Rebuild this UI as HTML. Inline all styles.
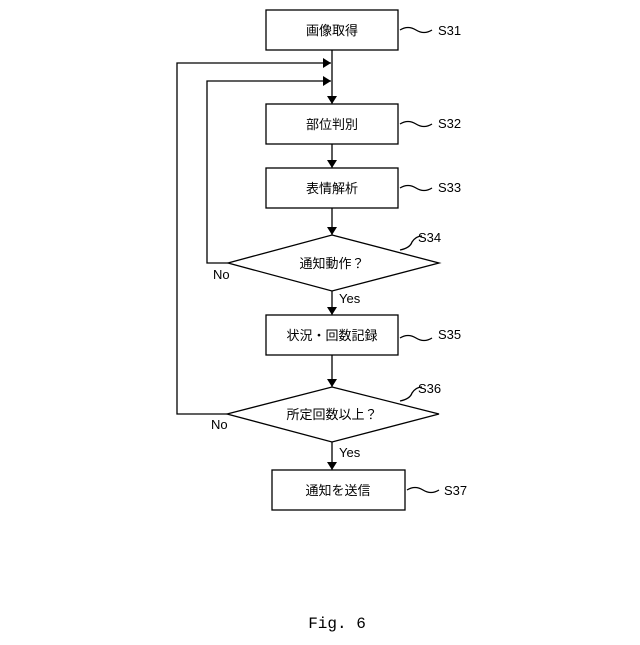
<!DOCTYPE html>
<html><head><meta charset="utf-8"><style>body{margin:0;background:#fff}</style></head><body>
<svg width="640" height="640" xmlns="http://www.w3.org/2000/svg" font-family="'Liberation Sans','Noto Sans CJK JP',sans-serif">
<defs><marker id="a" markerWidth="8" markerHeight="10" refX="8" refY="5" orient="auto" markerUnits="userSpaceOnUse"><path d="M0,0 L8,5 L0,10 z" fill="#000"/></marker></defs>
<g fill="#fff" stroke="#000" stroke-width="1.3">
<rect x="266" y="10" width="132" height="40"/>
<rect x="266" y="104" width="132" height="40"/>
<rect x="266" y="168" width="132" height="40"/>
<polygon points="332,235 439,263 332,291 228,263"/>
<rect x="266" y="315" width="132" height="40"/>
<polygon points="332,387 439,414 332,442 227,414"/>
<rect x="272" y="470" width="133" height="40"/>
</g>
<g stroke="#000" stroke-width="1.3" fill="none">
<line x1="332" y1="50" x2="332" y2="104" marker-end="url(#a)"/>
<line x1="332" y1="144" x2="332" y2="168" marker-end="url(#a)"/>
<line x1="332" y1="208" x2="332" y2="235" marker-end="url(#a)"/>
<line x1="332" y1="291" x2="332" y2="315" marker-end="url(#a)"/>
<line x1="332" y1="355" x2="332" y2="387" marker-end="url(#a)"/>
<line x1="332" y1="442" x2="332" y2="470" marker-end="url(#a)"/>
<polyline points="228,263 207,263 207,81 331,81" marker-end="url(#a)"/>
<polyline points="227,414 177,414 177,63 331,63" marker-end="url(#a)"/>
<path d="M400,30 q8,-5 16,0 t16,0" />
<path d="M400,124 q8,-5 16,0 t16,0" />
<path d="M400,188 q8,-5 16,0 t16,0" />
<path d="M400,348 q8,-5 16,0 t16,0" transform="translate(0,-10)"/>
<path d="M407,490 q8,-5 16,0 t16,0" />
<path d="M400,250 q10,-2 12,-8 q4,-6 10,-6" />
<path d="M400,401 q10,-2 12,-8 q4,-6 10,-6" />
</g>
<g font-size="13" text-anchor="middle" fill="#000">
<text x="332" y="35">画像取得</text>
<text x="332" y="129">部位判別</text>
<text x="332" y="193">表情解析</text>
<text x="332" y="268">通知動作？</text>
<text x="332" y="340">状況・回数記録</text>
<text x="332" y="419">所定回数以上？</text>
<text x="338" y="495">通知を送信</text>
</g>
<g font-size="13" fill="#000">
<text x="438" y="35">S31</text>
<text x="438" y="128">S32</text>
<text x="438" y="192">S33</text>
<text x="418" y="242">S34</text>
<text x="438" y="339">S35</text>
<text x="418" y="393">S36</text>
<text x="444" y="495">S37</text>
<text x="213" y="279">No</text>
<text x="211" y="429">No</text>
<text x="339" y="303">Yes</text>
<text x="339" y="457">Yes</text>
</g>
<text x="337" y="628" font-family="'Liberation Mono',monospace" font-size="16" text-anchor="middle">Fig. 6</text>
</svg>
</body></html>
